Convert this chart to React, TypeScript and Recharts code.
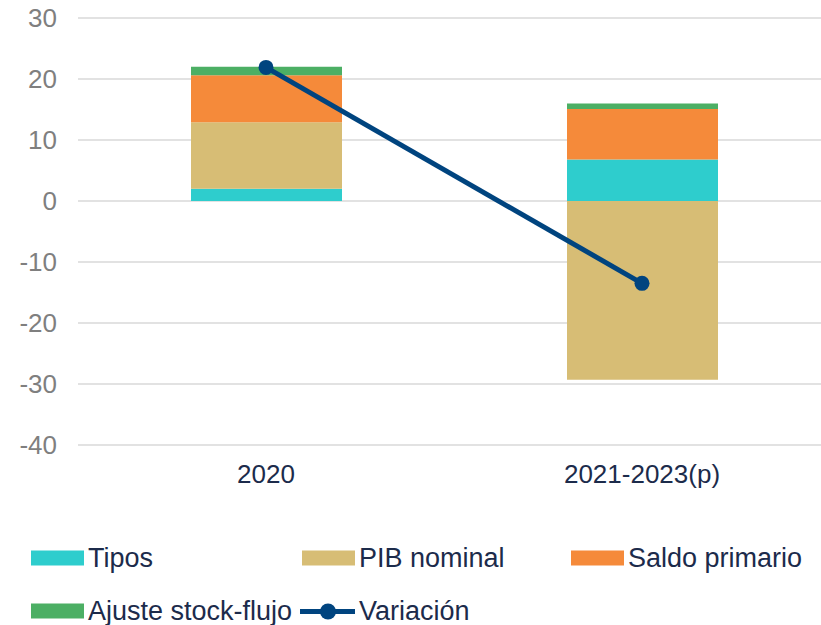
import {
  Bar,
  CartesianGrid,
  ComposedChart,
  Line,
  XAxis,
  YAxis,
} from 'recharts';

// ----------------------------------------------------------------------

const categories = ['2020', '2021-2023(p)'];
const tipos = [2.0, 6.8];
const pibNominal = [10.9, -29.3];
const saldoPrimario = [7.7, 8.3];
const ajusteStockFlujo = [1.4, 0.9];
const variacion = [21.9, -13.5];
const yTicks = [-40, -30, -20, -10, 0, 10, 20, 30];

const FONT = '"Liberation Sans", Arial, sans-serif';
const NAVY = '#1c2b4b';
const GREY = '#7f7f7f';
const LINE_COLOR = '#00447f';

const barSeries = [
  { key: 'tipos', name: 'Tipos', color: '#2ecdcd' },
  { key: 'pib', name: 'PIB nominal', color: '#d7bd75' },
  { key: 'saldo', name: 'Saldo primario', color: '#f58a3a' },
  { key: 'ajuste', name: 'Ajuste stock-flujo', color: '#4caf64' },
];

const data = categories.map((name, i) => ({
  name,
  tipos: tipos[i],
  pib: pibNominal[i],
  saldo: saldoPrimario[i],
  ajuste: ajusteStockFlujo[i],
  variacion: variacion[i],
}));

// ----------------------------------------------------------------------

function LegendLabel({ text }: { text: string }) {
  return (
    <span
      style={{
        fontFamily: FONT,
        fontSize: 27,
        lineHeight: 1,
        color: NAVY,
        whiteSpace: 'nowrap',
        marginLeft: 4,
      }}
    >
      {text}
    </span>
  );
}

function Swatch({ color }: { color: string }) {
  return <span style={{ display: 'inline-block', width: 53, height: 15, background: color }} />;
}

const itemStyle = (left: number, top: number) => ({
  position: 'absolute' as const,
  left,
  top,
  transform: 'translateY(-50%)',
  display: 'flex',
  alignItems: 'center',
});

function ChartLegend() {
  const slots = [
    { left: 31, top: 558 },
    { left: 302, top: 558 },
    { left: 571, top: 558 },
    { left: 31, top: 611 },
  ];
  return (
    <>
      {barSeries.map((s, i) => (
        <div key={s.key} style={itemStyle(slots[i].left, slots[i].top)}>
          <Swatch color={s.color} />
          <LegendLabel text={s.name} />
        </div>
      ))}
      <div style={itemStyle(300, 611)}>
        <svg width={55} height={18}>
          <line x1={0} y1={9} x2={55} y2={9} stroke={LINE_COLOR} strokeWidth={5} />
          <circle cx={28} cy={9} r={8} fill={LINE_COLOR} />
        </svg>
        <LegendLabel text="Variación" />
      </div>
    </>
  );
}

// ----------------------------------------------------------------------

export default function App() {
  return (
    <div
      style={{
        position: 'absolute',
        left: 0,
        top: 0,
        width: 821,
        height: 625,
        overflow: 'hidden',
        background: '#fff',
      }}
    >
      <ComposedChart
        width={840}
        height={625}
        data={data}
        stackOffset="sign"
        margin={{ top: 18, right: 10, left: 0, bottom: 0 }}
      >
        <CartesianGrid vertical={false} stroke="#d9d9d9" strokeWidth={1.5} />
        <XAxis
          dataKey="name"
          height={180}
          axisLine={false}
          tickLine={false}
          tickSize={0}
          tickMargin={20}
          tick={{ fill: NAVY, fontSize: 26, fontFamily: FONT }}
        />
        <YAxis
          width={78}
          domain={[-40, 30]}
          ticks={yTicks}
          interval={0}
          axisLine={false}
          tickLine={false}
          tickSize={0}
          tickMargin={21}
          tick={{ fill: GREY, fontSize: 26, fontFamily: FONT }}
        />
        {barSeries.map((s) => (
          <Bar
            key={s.key}
            dataKey={s.key}
            name={s.name}
            stackId="a"
            fill={s.color}
            barSize={151}
            isAnimationActive={false}
          />
        ))}
        <Line
          type="linear"
          dataKey="variacion"
          name="Variación"
          stroke={LINE_COLOR}
          strokeWidth={5}
          dot={{ r: 7.5, fill: LINE_COLOR, stroke: LINE_COLOR, strokeWidth: 0 }}
          isAnimationActive={false}
        />
      </ComposedChart>
      <ChartLegend />
    </div>
  );
}
